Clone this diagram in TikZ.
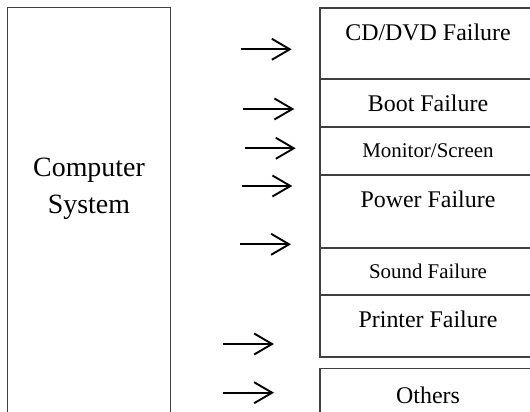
\documentclass[tikz,border=0pt]{standalone}
\usepackage{fontspec}
\setmainfont{Liberation Serif}
\usetikzlibrary{arrows.meta,positioning}

\begin{document}
\begin{tikzpicture}[
  x=0.5bp, y=-0.5bp,
  every node/.style={align=center},
  frame/.style={draw=black!75, line width=0.8bp, inner sep=0pt, outer sep=0pt,
                minimum width=108bp},
  item/.style={font=\fontsize{12}{14}\selectfont, inner sep=0pt},
  smallitem/.style={font=\fontsize{10.5}{12}\selectfont, inner sep=0pt},
  arr/.style={-{Straight Barb[length=9bp,width=10.5bp]}, line width=0.95bp},
]
\useasboundingbox (0,0) rectangle (530,412);
\clip (0,0) rectangle (530,412);
\fill[white] (0,0) rectangle (530,412);

% system block (runs past the lower edge)
\node[frame, minimum width=81.5bp, minimum height=240bp, anchor=north west]
  (sys) at (7.5,7.5) {};
\node[font=\fontsize{14}{18.5}\selectfont] (systxt) at (89,189) {Computer\\System};

% stack of failure boxes
\node[frame, minimum height=35.5bp, anchor=north west] (cd) at (320,8) {};
\node[frame, minimum height=24bp, below=0pt of cd] (boot) {};
\node[frame, minimum height=24bp, below=0pt of boot] (mon) {};
\node[frame, minimum height=36.5bp, below=0pt of mon] (power) {};
\node[frame, minimum height=23.5bp, below=0pt of power] (sound) {};
\node[frame, minimum height=31bp, below=0pt of sound] (printer) {};
\node[frame, minimum height=40bp, below=5.75bp of printer] (others) {};

\node[item, below=8bp of cd.north] (cdtxt) {CD/DVD Failure};
\node[item, below=8bp of boot.north] (boottxt) {Boot Failure};
\node[smallitem, below=8bp of mon.north] (montxt) {Monitor/Screen};
\node[item, below=8bp of power.north] (powertxt) {Power Failure};
\node[smallitem, below=8bp of sound.north] (soundtxt) {Sound Failure};
\node[item, below=8bp of printer.north] (printertxt) {Printer Failure};
\node[item, below=9bp of others.north] (otherstxt) {Others};

% arrows
\foreach \n/\xa/\xb/\y in {1/240.7/291.7/49.3, 2/243.3/294.3/109,
    3/245/295.7/148.3, 4/241.7/292.3/186, 5/240/291/244.3,
    6/223.3/274/344, 7/223.3/274/392.7}{
  \coordinate (a\n) at (\xa,\y);
  \coordinate (b\n) at (\xb,\y);
  \draw[arr] (a\n) -- (b\n);
}

\end{tikzpicture}
\end{document}
